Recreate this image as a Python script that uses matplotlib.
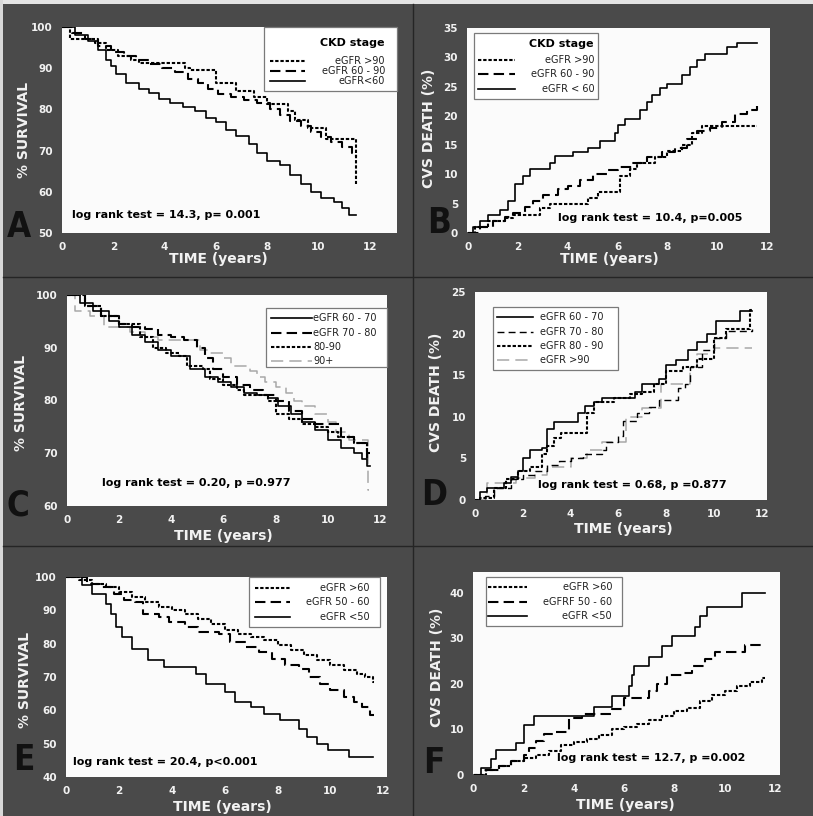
import matplotlib
matplotlib.use("Agg")
import matplotlib.pyplot as plt
from matplotlib.lines import Line2D
from matplotlib.patches import Rectangle

# ---------------- data: Kaplan-Meier step points (years, %) ----------------
# A: survival by CKD stage
A_gt90_t = [0, 0.3, 1.3, 1.7, 2.2, 2.7, 3.0, 4.8, 5.0, 6.0, 6.8, 7.5, 8.0, 8.8, 9.1, 9.6, 10.3, 11.45, 11.47]
A_gt90_v = [100, 97, 96, 94.5, 93, 92, 91.3, 90, 89.5, 86.5, 84.5, 83, 81.3, 79.5, 77.5, 75.5, 72.7, 62, 62]
A_60_90_t = [0, 0.4, 0.9, 1.4, 1.9, 2.4, 2.9, 3.4, 3.9, 4.4, 4.9, 5.3, 5.7, 6.1, 6.6, 7.1, 7.6, 8.1, 8.5, 8.9, 9.3, 9.7, 10.1, 10.5, 10.9, 11.3, 11.45]
A_60_90_v = [100, 98.5, 97, 95.5, 94, 93, 92, 91, 90, 89, 87.5, 86.3, 85, 83.7, 83, 82.3, 81.5, 80, 78.7, 77.2, 76, 74.5, 73.3, 72, 70.8, 69.5, 68.5]
A_lt60_t = [0, 0.5, 1.0, 1.4, 1.7, 1.9, 2.1, 2.5, 3.0, 3.4, 3.8, 4.2, 4.7, 5.2, 5.6, 6.0, 6.4, 6.8, 7.3, 7.6, 8.0, 8.5, 8.9, 9.3, 9.7, 10.1, 10.6, 10.9, 11.2, 11.45]
A_lt60_v = [100, 98, 96.5, 94.5, 92, 90.5, 88.5, 86.5, 85, 84, 82.5, 81.5, 80.5, 79.5, 78, 77, 75, 73.5, 71.5, 69.5, 67.5, 66.5, 64, 62, 60, 58.5, 57.5, 56, 54.3, 54.3]

# B: cardiovascular death by CKD stage
B_gt90_t = [0, 0.3, 0.8, 1.5, 1.8, 2.9, 3.3, 4.8, 5.2, 6.1, 6.5, 6.8, 7.5, 8.0, 8.6, 9.0, 9.4, 11.6]
B_gt90_v = [0, 1, 2, 2.5, 3, 4.2, 5, 6, 7, 9.8, 11, 12, 13, 14, 15, 17, 18.2, 18.2]
B_60_90_t = [0, 0.5, 1.0, 1.5, 1.8, 2.3, 2.6, 3.0, 3.6, 4.0, 4.5, 5.0, 5.6, 6.0, 6.6, 7.2, 7.8, 8.3, 8.8, 9.2, 9.7, 10.2, 10.7, 11.2, 11.6]
B_60_90_v = [0, 1, 2, 2.8, 3.5, 4.5, 5.5, 6.5, 7.5, 8, 9, 10, 10.8, 11.3, 12, 13, 13.8, 14.5, 16, 17.5, 18, 19, 20.3, 21, 21.7]
B_lt60_t = [0, 0.2, 0.5, 0.8, 1.3, 1.6, 1.9, 2.2, 2.5, 3.3, 3.5, 4.2, 4.8, 5.3, 5.9, 6.0, 6.3, 6.9, 7.2, 7.4, 7.7, 8.0, 8.6, 8.9, 9.2, 9.5, 10.4, 10.8, 11.6]
B_lt60_v = [0, 1, 2, 3, 4, 5.5, 8.3, 9.7, 11, 12, 13.2, 13.9, 14.5, 15.7, 17, 18.5, 19.5, 21, 22.3, 23.5, 24.8, 25.5, 27, 28.3, 29.5, 30.5, 31.7, 32.5, 32.5]

# C: survival by eGFR decile band
C_60_70_t = [0, 0.5, 1.0, 1.6, 2.0, 2.5, 3.0, 3.5, 4.0, 4.7, 5.3, 5.8, 6.3, 6.8, 7.3, 7.7, 8.1, 8.6, 9.0, 9.5, 10.0, 10.5, 11.0, 11.3, 11.5, 11.6]
C_60_70_v = [100, 98.5, 97, 95, 94, 92.5, 91, 89.5, 88.5, 86, 84.5, 83.5, 82.5, 81.5, 81, 80.5, 79, 77.5, 76, 74.5, 72.5, 71, 70, 69, 67.5, 67.5]
C_70_80_t = [0, 0.7, 1.3, 2.0, 2.5, 3.0, 3.5, 4.0, 4.5, 5.0, 5.3, 5.6, 6.0, 6.5, 7.0, 7.5, 8.0, 8.5, 9.0, 9.5, 10.0, 10.5, 11.0, 11.5, 11.6]
C_70_80_v = [100, 98, 96, 94.5, 94, 93.5, 92.5, 92, 91.5, 90, 88, 86, 84.5, 83, 82, 81, 80, 78, 76.5, 75.5, 75.5, 73, 72, 69, 69]
C_80_90_t = [0, 0.7, 1.3, 2.0, 2.8, 3.3, 3.8, 4.3, 4.6, 5.2, 5.5, 6.0, 6.5, 6.8, 7.7, 8.0, 8.5, 9.0, 9.5, 10.0, 10.4, 11.0, 11.5, 11.6]
C_80_90_v = [100, 98, 96, 94.5, 92, 90, 89, 88.5, 86.5, 86, 84, 83, 82, 81, 80, 77.5, 76.5, 75.5, 75, 74, 73, 72, 70, 70]
C_90p_t = [0, 0.3, 0.9, 1.4, 2.4, 3.0, 3.5, 5.1, 5.5, 6.0, 6.3, 7.0, 7.3, 7.6, 8.0, 8.4, 8.7, 9.0, 9.5, 10.0, 10.3, 10.8, 11.55, 11.57]
C_90p_v = [100, 97, 96, 94, 93, 92, 91.5, 89.5, 89, 88, 86.5, 85.5, 84.5, 83.5, 82.5, 81.5, 80, 79, 77.5, 76, 74, 72.5, 63, 63]

# D: cardiovascular death by eGFR decile band
D_60_70_t = [0, 0.2, 0.5, 1.2, 1.5, 1.8, 2.0, 2.3, 2.8, 3.0, 3.3, 4.3, 4.6, 5.0, 5.3, 6.7, 7.0, 7.7, 8.0, 8.4, 8.9, 9.3, 9.7, 10.1, 11.1, 11.6]
D_60_70_v = [0, 1, 1.5, 2, 2.8, 3.5, 5, 6, 6.2, 8.5, 9.4, 10.5, 11.3, 11.8, 12.3, 13, 14, 14.5, 16.2, 16.8, 18, 19, 20, 21.5, 22.7, 22.7]
D_70_80_t = [0, 0.4, 0.8, 1.5, 2.0, 2.5, 3.0, 3.5, 4.0, 4.5, 5.3, 5.5, 6.0, 6.2, 6.8, 7.3, 7.7, 8.5, 8.8, 9.0, 9.5, 10.0, 10.5, 11.6]
D_70_80_v = [0, 0.5, 1.5, 2.5, 3, 3.5, 4.2, 4.7, 5, 5.5, 6, 7, 7.7, 9.5, 10.5, 11.2, 12, 13.5, 14, 16, 18, 19.5, 20.3, 20.5]
D_80_90_t = [0, 0.2, 0.8, 1.3, 1.8, 2.3, 2.8, 3.0, 3.3, 3.6, 4.7, 5.0, 5.8, 6.5, 7.0, 7.5, 8.0, 8.7, 9.3, 10.0, 10.5, 11.5, 11.6]
D_80_90_v = [0, 0.3, 1.5, 2.5, 3.5, 4, 5.5, 6.5, 7.5, 8, 10.5, 11.8, 12.2, 12.8, 13, 14, 15.5, 16, 17, 19.5, 20.5, 22.8, 22.8]
D_gt90_t = [0, 0.5, 1.7, 2.5, 3.0, 4.0, 4.7, 5.3, 6.3, 7.0, 7.8, 9.0, 9.3, 10.0, 11.6]
D_gt90_v = [0, 2, 2.7, 3, 4, 5, 6, 7, 10, 11, 14, 16, 17.5, 18.3, 18.3]

# E: survival by eGFR 60 / 50 cut-offs
E_gt60_t = [0, 0.5, 1.0, 1.5, 2.0, 2.5, 3.0, 3.5, 4.0, 4.5, 5.0, 5.5, 6.0, 6.5, 7.0, 7.5, 8.0, 8.5, 9.0, 9.5, 10.0, 10.5, 11.0, 11.3, 11.6, 11.65]
E_gt60_v = [100, 99, 98, 97, 95.5, 94, 92.5, 91, 90, 89, 87.5, 86, 84, 83, 82, 81, 79.5, 78, 76.5, 75, 73.5, 72, 71, 70, 68.5, 68.5]
E_50_60_t = [0, 0.8, 1.3, 1.8, 2.2, 2.6, 2.9, 3.5, 3.9, 4.5, 5.0, 5.8, 6.2, 6.8, 7.3, 7.8, 8.3, 8.8, 9.2, 9.6, 10.0, 10.5, 10.9, 11.2, 11.5, 11.65]
E_50_60_v = [100, 98, 97, 95, 93, 92.5, 89, 88, 86.5, 85, 83.5, 83, 80.5, 79, 77.5, 75.5, 73.5, 72.5, 70, 68, 66, 64, 62.5, 61, 58.5, 58.5]
E_lt50_t = [0, 0.6, 1.0, 1.5, 1.7, 1.9, 2.1, 2.5, 3.1, 3.7, 4.9, 5.3, 6.0, 6.4, 7.0, 7.5, 8.1, 8.8, 9.1, 9.5, 9.9, 10.7, 11.6]
E_lt50_v = [100, 97.5, 95, 92, 89, 85, 82, 78.5, 75, 73, 71, 68, 65.5, 62.5, 61, 59, 57, 54.5, 52, 50, 48, 46, 46]

# F: cardiovascular death by eGFR 60 / 50 cut-offs
F_gt60_t = [0, 0.5, 1.0, 1.5, 2.0, 2.5, 3.0, 3.5, 4.0, 4.5, 5.0, 5.5, 6.0, 6.5, 7.0, 7.5, 8.0, 8.5, 9.0, 9.5, 10.0, 10.5, 11.0, 11.5, 11.6]
F_gt60_v = [0, 1, 2, 3, 3.8, 4.5, 5.3, 6.5, 7.2, 7.8, 8.8, 10, 10.5, 11.2, 12, 13, 14, 14.8, 16.3, 17.5, 18.5, 19.5, 20.5, 21.3, 21.3]
F_50_60_t = [0, 0.4, 1.0, 1.5, 2.0, 2.2, 2.5, 2.8, 3.2, 3.8, 4.3, 5.5, 6.0, 7.0, 7.3, 7.7, 8.3, 8.7, 9.2, 9.6, 10.8, 11.6]
F_50_60_v = [0, 1, 2, 3, 4.5, 6, 7.5, 9, 9.5, 12.5, 13.5, 14.5, 17, 18.5, 20, 22, 22.5, 24, 25.5, 27, 28.5, 28.5]
F_lt50_t = [0, 0.3, 0.7, 0.9, 1.7, 2.0, 2.4, 4.8, 5.5, 6.2, 6.3, 6.4, 7.0, 7.5, 7.9, 8.8, 9.0, 9.3, 10.7, 11.6]
F_lt50_v = [0, 1.5, 3.5, 5.5, 7, 11, 13, 15, 17.3, 19.5, 22, 24, 26, 28.3, 30.5, 32.5, 35, 37, 40, 40]

stat_text = {
    "A": "log rank test = 14.3, p= 0.001",
    "B": "log rank test = 10.4, p=0.005",
    "C": "log rank test = 0.20, p =0.977",
    "D": "log rank test = 0.68, p =0.877",
    "E": "log rank test = 20.4, p<0.001",
    "F": "log rank test = 12.7, p =0.002",
}

# ---------------- styles ----------------
DOT = dict(color="black", lw=1.5, ls=(0, (1.6, 0.9)))
DASH = dict(color="black", lw=1.5, ls=(0, (5, 2.5)))
SOLID = dict(color="black", lw=1.2, ls="-")
THINDASH = dict(color="black", lw=1.0, ls=(0, (5, 3)))
GREY = dict(color="#a8a8a8", lw=1.1, ls=(0, (8, 4)))

W, H = 813, 816
fig = plt.figure(figsize=(W / 100, H / 100), dpi=100)
fig.patch.set_facecolor("#4a4a4a")

# page edge and panel dividers
fig.add_artist(Rectangle((0, 1 - 4 / H), 1, 4 / H, transform=fig.transFigure,
                         color="#e4e4e4", lw=0, zorder=0))
fig.add_artist(Rectangle((0, 0), 2.5 / W, 1, transform=fig.transFigure,
                         color="#d8d8d8", lw=0, zorder=0))
fig.add_artist(Line2D([413 / W] * 2, [0, 1 - 4 / H], transform=fig.transFigure,
                      color="#252525", lw=1.0))
for yy in (277, 546):
    fig.add_artist(Line2D([2.5 / W, 1], [1 - yy / H] * 2, transform=fig.transFigure,
                          color="#252525", lw=1.0))


def make_axes(px):
    x0, y0, x1, y1 = px
    ax = fig.add_axes([x0 / W, 1 - y1 / H, (x1 - x0) / W, (y1 - y0) / H])
    ax.set_facecolor("#fbfbfb")
    for s in ax.spines.values():
        s.set_visible(False)
    ax.tick_params(length=0, pad=6.5, labelsize=7.5, labelcolor="#f2f2f2")
    return ax


def finish(ax, xlim, ylim, yticks, ylabel, xlab_xy, ylab_xy):
    ax.set_xlim(*xlim)
    ax.set_ylim(*ylim)
    ax.set_xticks(range(0, 13, 2))
    ax.set_yticks(yticks)
    for lab in ax.get_xticklabels() + ax.get_yticklabels():
        lab.set_fontweight("bold")
    ax.set_xlabel("TIME (years)", color="#f2f2f2", fontweight="bold", fontsize=10)
    ax.xaxis.set_label_coords(*xlab_xy)
    ax.xaxis.label.set_va("center")
    ax.set_ylabel(ylabel, color="#f2f2f2", fontweight="bold", fontsize=10)
    ax.yaxis.set_label_coords(*ylab_xy)
    ax.yaxis.label.set_va("center")


def key(ax, box, entries, line_x, text_x, ys, align, title=None, title_xy=None):
    x0, y0, x1, y1 = box
    ax.add_patch(Rectangle((x0, y0), x1 - x0, y1 - y0, transform=ax.transAxes,
                           facecolor="white", edgecolor="#7a7a7a", lw=0.9,
                           zorder=5, clip_on=False))
    if title:
        ax.text(*title_xy, title, transform=ax.transAxes, ha="right", va="center",
                fontsize=8, fontweight="bold", zorder=6)
    for (style, label), y in zip(entries, ys):
        ax.add_line(Line2D(line_x, [y, y], transform=ax.transAxes, zorder=6, **style))
        ax.text(text_x, y, label, transform=ax.transAxes, ha=align, va="center",
                fontsize=7, zorder=6, color="#202020")


def curve(ax, t, v, style):
    ax.step(t, v, where="post", zorder=3, **style)


def letter(x, ybase, s):
    fig.text(x / W, 1 - ybase / H, s, fontsize=25, fontweight="bold",
             fontstretch="condensed", color="#111111", ha="left", va="baseline")


# ---------- A ----------
ax = make_axes((62, 27, 397, 233))
curve(ax, A_gt90_t, A_gt90_v, DOT)
curve(ax, A_60_90_t, A_60_90_v, DASH)
curve(ax, A_lt60_t, A_lt60_v, SOLID)
finish(ax, (0, 13.06), (50, 100), range(50, 101, 10), "% SURVIVAL", (0.466, -0.127), (-0.113, 0.5))
ax.text(0.03, 0.087, stat_text["A"], transform=ax.transAxes, fontsize=8,
        fontweight="bold", va="center")
key(ax, (0.603, 0.689, 1.0, 1.0),
    [(DOT, "eGFR >90"), (DASH, "eGFR 60 - 90"), (SOLID, "eGFR<60")],
    (0.621, 0.725), 0.964, (0.835, 0.786, 0.738), "right", "CKD stage", (0.964, 0.922))
letter(7, 237, "A")

# ---------- B ----------
ax = make_axes((467, 28, 770, 233))
curve(ax, B_gt90_t, B_gt90_v, DOT)
curve(ax, B_60_90_t, B_60_90_v, DASH)
curve(ax, B_lt60_t, B_lt60_v, SOLID)
finish(ax, (-0.04, 12.12), (0, 35), range(0, 36, 5), "CVS DEATH (%)", (0.469, -0.128), (-0.125, 0.51))
ax.text(0.30, 0.073, stat_text["B"], transform=ax.transAxes, fontsize=8,
        fontweight="bold", va="center")
key(ax, (0.023, 0.654, 0.432, 0.976),
    [(DOT, "eGFR >90"), (DASH, "eGFR 60 - 90"), (SOLID, "eGFR < 60")],
    (0.036, 0.158), 0.422, (0.844, 0.776, 0.702), "right", "CKD stage", (0.416, 0.922))
letter(427, 233, "B")

# ---------- C ----------
ax = make_axes((67, 295, 387, 506))
curve(ax, C_90p_t, C_90p_v, GREY)
curve(ax, C_70_80_t, C_70_80_v, DASH)
curve(ax, C_80_90_t, C_80_90_v, DOT)
curve(ax, C_60_70_t, C_60_70_v, SOLID)
finish(ax, (0, 12.27), (60, 100), range(60, 101, 10), "% SURVIVAL", (0.49, -0.14), (-0.144, 0.49))
ax.text(0.109, 0.109, stat_text["C"], transform=ax.transAxes, fontsize=8,
        fontweight="bold", va="center")
key(ax, (0.622, 0.66, 1.0, 0.938),
    [(SOLID, "eGFR 60 - 70"), (DASH, "eGFR 70 - 80"), (DOT, "80-90"), (GREY, "90+")],
    (0.637, 0.765), 0.77, (0.89, 0.821, 0.754, 0.686), "left")
letter(7, 515, "C")

# ---------- D ----------
ax = make_axes((475, 292, 767, 500))
curve(ax, D_gt90_t, D_gt90_v, GREY)
curve(ax, D_70_80_t, D_70_80_v, THINDASH)
curve(ax, D_80_90_t, D_80_90_v, DOT)
curve(ax, D_60_70_t, D_60_70_v, SOLID)
finish(ax, (0, 12.22), (0, 25), range(0, 26, 5), "CVS DEATH (%)", (0.507, -0.14), (-0.134, 0.52))
ax.text(0.216, 0.072, stat_text["D"], transform=ax.transAxes, fontsize=8,
        fontweight="bold", va="center")
key(ax, (0.062, 0.625, 0.49, 0.928),
    [(SOLID, "eGFR 60 - 70"), (THINDASH, "eGFR 70 - 80"), (DOT, "eGFR 80 - 90"), (GREY, "eGFR >90")],
    (0.075, 0.199), 0.223, (0.88, 0.808, 0.74, 0.673), "left")
letter(421, 505, "D")

# ---------- E ----------
ax = make_axes((66, 577, 387, 777))
curve(ax, E_gt60_t, E_gt60_v, DOT)
curve(ax, E_50_60_t, E_50_60_v, DASH)
curve(ax, E_lt50_t, E_lt50_v, SOLID)
finish(ax, (0, 12.14), (40, 100), range(40, 101, 10), "% SURVIVAL", (0.486, -0.152), (-0.128, 0.485))
ax.text(0.022, 0.075, stat_text["E"], transform=ax.transAxes, fontsize=8,
        fontweight="bold", va="center")
key(ax, (0.57, 0.75, 0.978, 1.0),
    [(DOT, "eGFR >60"), (DASH, "eGFR 50 - 60"), (SOLID, "eGFR <50")],
    (0.589, 0.698), 0.947, (0.945, 0.875, 0.80), "right")
letter(13, 770, "E")

# ---------- F ----------
ax = make_axes((473, 572, 780, 775))
curve(ax, F_gt60_t, F_gt60_v, DOT)
curve(ax, F_50_60_t, F_50_60_v, DASH)
curve(ax, F_lt50_t, F_lt50_v, SOLID)
finish(ax, (-0.02, 12.2), (0, 44.6), range(0, 41, 10), "CVS DEATH (%)", (0.495, -0.15), (-0.117, 0.53))
ax.text(0.274, 0.084, stat_text["F"], transform=ax.transAxes, fontsize=8,
        fontweight="bold", va="center")
key(ax, (0.042, 0.734, 0.485, 0.975),
    [(DOT, "eGFR >60"), (DASH, "eGFRF 50 - 60"), (SOLID, "eGFR <50")],
    (0.049, 0.176), 0.453, (0.926, 0.852, 0.783), "right")
letter(423, 773, "F")

fig.savefig("out.png", dpi=100, facecolor=fig.get_facecolor())
